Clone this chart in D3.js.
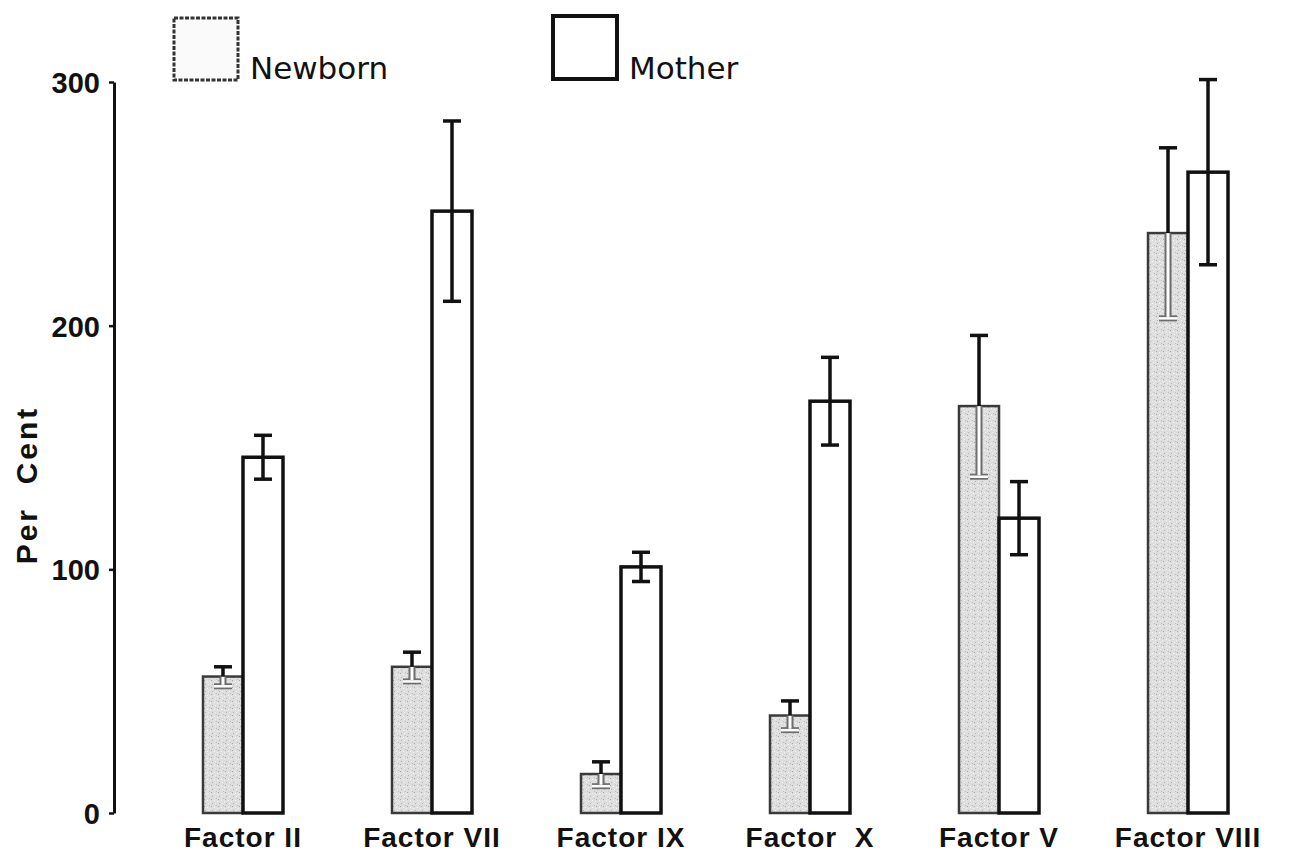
<!DOCTYPE html>
<html>
<head>
<meta charset="utf-8">
<script src="https://cdn.jsdelivr.net/npm/d3@7"></script>
<style>
  body { margin: 0; background: #fff; }
  svg { display: block; }
</style>
</head>
<body>
<svg id="chart" width="1293" height="852"></svg>
<script>
// Coagulation factor levels, newborn vs mother (per cent of normal)
const categories = ["Factor II", "Factor VII", "Factor IX", "Factor  X", "Factor V", "Factor VIII"];
const newborn    = [56, 60, 16, 40, 167, 238];
const newbornErr = [4, 6, 5, 6, 29, 35];
const mother     = [146, 247, 101, 169, 121, 263];
const motherErr  = [9, 37, 6, 18, 15, 38];
const yTicks     = [0, 100, 200, 300];
const seriesNames = ["Newborn", "Mother"];

const svg = d3.select("#chart");
const defs = svg.append("defs");

// stippled grey texture for the newborn bars
const pat = defs.append("pattern")
  .attr("id", "stipple").attr("patternUnits", "userSpaceOnUse")
  .attr("width", 7).attr("height", 7);
pat.append("rect").attr("width", 7).attr("height", 7).attr("fill", "#dedede");
[[1,1,"#a8a8a8"],[4,2,"#f6f6f6"],[2,5,"#b4b4b4"],[5,5,"#f0f0f0"],[6,0,"#c0c0c0"],[0,3,"#f2f2f2"]]
  .forEach(([px, py, c]) => pat.append("rect").attr("x", px).attr("y", py)
    .attr("width", 1).attr("height", 1).attr("fill", c));

const x = d3.scaleBand().domain(categories)
  .range([148.5, 1282.5]).paddingInner(0.5767).paddingOuter(0.2883);
const half = x.bandwidth() / 2;
const y = d3.scaleLinear().domain([0, 300]).range([813, 82]);

const font = "'Liberation Sans', Arial, sans-serif";

// y axis
const yAxis = svg.append("g").attr("transform", "translate(114,0)")
  .call(d3.axisLeft(y).tickValues(yTicks).tickSize(5).tickSizeOuter(0).tickPadding(9));
yAxis.select(".domain").attr("stroke", "#111").attr("stroke-width", 3);
yAxis.selectAll(".tick line").attr("stroke", "#111").attr("stroke-width", 2.5);
yAxis.selectAll(".tick text")
  .attr("font-family", font).attr("font-weight", "bold")
  .attr("font-size", 29).attr("fill", "#111").attr("dy", "0.36em");

svg.append("text")
  .attr("transform", "translate(37,485) rotate(-90)")
  .attr("text-anchor", "middle")
  .attr("font-family", font).attr("font-weight", "bold")
  .attr("font-size", 30).attr("letter-spacing", 3).attr("fill", "#111")
  .attr("xml:space", "preserve")
  .text("Per  Cent");

// bars
const gBars = svg.append("g");
categories.forEach((c, i) => {
  gBars.append("rect")
    .attr("x", x(c)).attr("y", y(newborn[i]))
    .attr("width", half).attr("height", y(0) - y(newborn[i]))
    .attr("fill", "url(#stipple)").attr("stroke", "#3a3a3a").attr("stroke-width", 2.5);
});
categories.forEach((c, i) => {
  gBars.append("rect")
    .attr("x", x(c) + half).attr("y", y(mother[i]))
    .attr("width", half).attr("height", y(0) - y(mother[i]))
    .attr("fill", "#fff").attr("stroke", "#111").attr("stroke-width", 3.5);
});

// error bars
const cap = 9;
const gErr = svg.append("g").attr("stroke-linecap", "butt");
function vline(cx, v0, v1, color, w) {
  gErr.append("line").attr("x1", cx).attr("x2", cx)
    .attr("y1", y(v0)).attr("y2", y(v1)).attr("stroke", color).attr("stroke-width", w);
}
function capLine(cx, v, color, w) {
  gErr.append("line").attr("x1", cx - cap).attr("x2", cx + cap)
    .attr("y1", y(v)).attr("y2", y(v)).attr("stroke", color).attr("stroke-width", w);
}
categories.forEach((c, i) => {
  // newborn: upper half dark, lower half cut through the stipple in white
  const cn = x(c) + half / 2;
  const m = newborn[i], e = newbornErr[i];
  vline(cn, m, m - e, "#6e6e6e", 7);
  capLine(cn, m - e, "#6e6e6e", 6);
  vline(cn, m, m - e + 0.6, "#fff", 3);
  capLine(cn, m - e, "#fff", 2.5);
  vline(cn, m, m + e, "#111", 3.5);
  capLine(cn, m + e, "#111", 3.5);

  // mother
  const cm = x(c) + half * 1.5;
  const mm = mother[i], em = motherErr[i];
  vline(cm, mm - em, mm + em, "#111", 3.5);
  capLine(cm, mm + em, "#111", 3.5);
  capLine(cm, mm - em, "#111", 3.5);
});

// category labels
svg.append("g").selectAll("text").data(categories).join("text")
  .attr("x", d => x(d) + half).attr("y", 847)
  .attr("text-anchor", "middle")
  .attr("font-family", font).attr("font-weight", "bold")
  .attr("font-size", 28).attr("letter-spacing", 1).attr("fill", "#111")
  .attr("xml:space", "preserve")
  .text(d => d);

// legend
const legend = svg.append("g");
legend.append("rect").attr("x", 174).attr("y", 18).attr("width", 64).attr("height", 62)
  .attr("fill", "#fafafa").attr("stroke", "#333").attr("stroke-width", 3)
  .attr("stroke-dasharray", "4 1.5");
legend.append("text").attr("x", 250).attr("y", 79)
  .attr("font-family", "'DejaVu Sans', sans-serif").attr("font-size", 31).attr("fill", "#111")
  .text(seriesNames[0]);
legend.append("rect").attr("x", 553).attr("y", 16).attr("width", 64).attr("height", 63)
  .attr("fill", "#fff").attr("stroke", "#111").attr("stroke-width", 4);
legend.append("text").attr("x", 629).attr("y", 79)
  .attr("font-family", "'DejaVu Sans', sans-serif").attr("font-size", 31).attr("fill", "#111")
  .text(seriesNames[1]);
</script>
</body>
</html>
